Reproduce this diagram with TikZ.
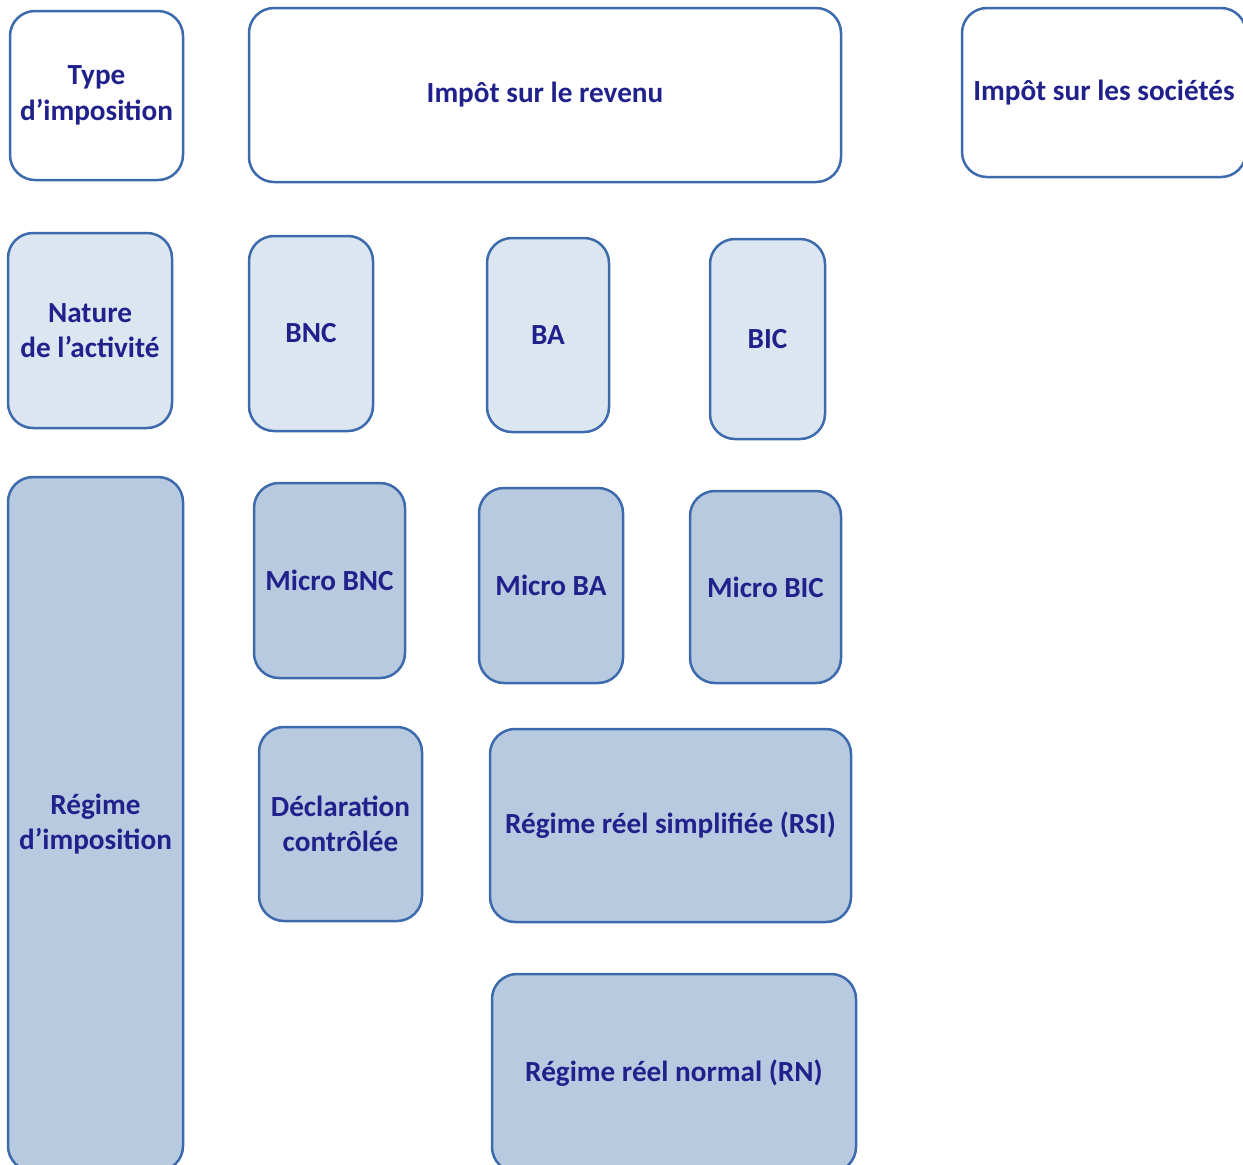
\documentclass[tikz,border=0pt]{standalone}
\usepackage{fontspec}
\setmainfont{Carlito}
\usepackage{tikz}

\definecolor{texte}{RGB}{33,33,140}
\definecolor{bord}{RGB}{60,106,172}
\definecolor{clair}{RGB}{220,230,241}
\definecolor{moyen}{RGB}{184,202,224}

\begin{document}
\begin{tikzpicture}[x=0.5pt, y=-0.5pt,
 every node/.style={draw=bord, line width=1.25pt, rounded corners=12.5pt,
   align=center, inner sep=0pt, text=texte,
   font=\fontsize{14.6}{17.8}\selectfont\bfseries},
 blanc/.style={fill=white},
 pale/.style={fill=clair},
 fonce/.style={fill=moyen}]
\clip (0,0) rectangle (1243,1164);
% type d'imposition
\node[blanc, minimum width=86.5pt, minimum height=84.5pt] (type) at (96.5,95.5) {Type\\d’imposition};
\node[blanc, minimum width=296pt, minimum height=87pt] (revenu) at (545,95) {Impôt sur le revenu};
\node[blanc, minimum width=142pt, minimum height=84.5pt] (societes) at (1104,92.5) {Impôt sur les sociétés};
% nature de l'activite
\node[pale, minimum width=82pt, minimum height=97.5pt] (nature) at (90,330.5) {Nature\\de l’activité};
\node[pale, minimum width=62pt, minimum height=97.5pt] (bnc) at (311,333.5) {BNC};
\node[pale, minimum width=61pt, minimum height=97pt] (ba) at (548,335) {BA};
\node[pale, minimum width=57.5pt, minimum height=100pt] (bic) at (767.5,339) {BIC};
% regime d'imposition
\node[fonce, minimum width=87.5pt, minimum height=347pt] (regime) at (95.5,824) {Régime\\d’imposition};
\node[fonce, minimum width=75.5pt, minimum height=97.5pt] (microbnc) at (329.5,580.5) {Micro BNC};
\node[fonce, minimum width=72pt, minimum height=97.5pt] (microba) at (551,585.5) {Micro BA};
\node[fonce, minimum width=75.5pt, minimum height=96pt] (microbic) at (765.5,587) {Micro BIC};
\node[fonce, minimum width=81.5pt, minimum height=97pt] (declaration) at (340.5,824) {Déclaration\\contrôlée};
\node[fonce, minimum width=180.5pt, minimum height=96.5pt] (rsi) at (670.5,825.5) {Régime réel simplifiée (RSI)};
\node[fonce, minimum width=182pt, minimum height=99pt] (rn) at (674,1073) {Régime réel normal (RN)};
\end{tikzpicture}
\end{document}
